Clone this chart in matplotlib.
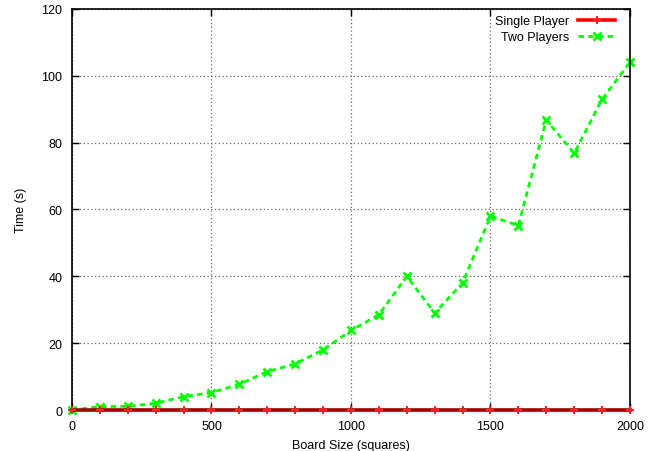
import matplotlib
matplotlib.use("Agg")
import matplotlib.pyplot as plt
import numpy as np

plt.rcParams["font.family"] = ["Liberation Sans", "DejaVu Sans"]
plt.rcParams["font.size"] = 9

# board sizes and timings
board_size = [0, 100, 200, 300, 400, 500, 600, 700, 800, 900, 1000,
              1100, 1200, 1300, 1400, 1500, 1600, 1700, 1800, 1900, 2000]
single_player = [0.0] * len(board_size)
two_players = [0.0, 1.0, 1.1, 2.0, 4.0, 5.2, 7.7, 11.5, 13.8, 18.0, 23.8,
               28.5, 40.0, 29.0, 38.0, 58.0, 55.2, 86.8, 76.8, 93.0, 104.0]

fig = plt.figure(figsize=(6.58, 4.52), dpi=100)
ax = fig.add_axes([0.1094, 0.0907, 0.8480, 0.8872])

# red line sits on the black border, so it looks darker there
ax.plot(board_size, single_player, color="#a00000", lw=2.6, marker="+",
        ms=6, mew=1.5, mec="#ff2020", label="Single Player", clip_on=False,
        zorder=6)
ax.plot(board_size, two_players, color="#00ff00", lw=2.0, ls=(0, (2, 1.5)),
        marker="x", ms=6, mew=2, label="Two Players", clip_on=False, zorder=4)

ax.set_xlim(0, 2000)
ax.set_ylim(0, 120)
ax.set_xticks(np.arange(0, 2001, 500))
ax.set_yticks(np.arange(0, 121, 20))
ax.tick_params(direction="in", top=True, right=True, length=5, width=1, pad=7)
ax.grid(True, color="#666666", ls=(0, (1, 2)), lw=0.9)
for s in ax.spines.values():
    s.set_linewidth(1.2)
    s.set_zorder(5)

ax.set_xlabel("Board Size (squares)", labelpad=5)
ax.set_ylabel("Time (s)", labelpad=10)

leg = ax.legend(loc="upper right", frameon=False, markerfirst=False,
                handlelength=3.0, handletextpad=0.7, labelspacing=0.3,
                borderaxespad=0.1, bbox_to_anchor=(0.985, 1.0))
leg.legend_handles[0].set_color("#ff0000")

fig.savefig("out.png", dpi=100)
